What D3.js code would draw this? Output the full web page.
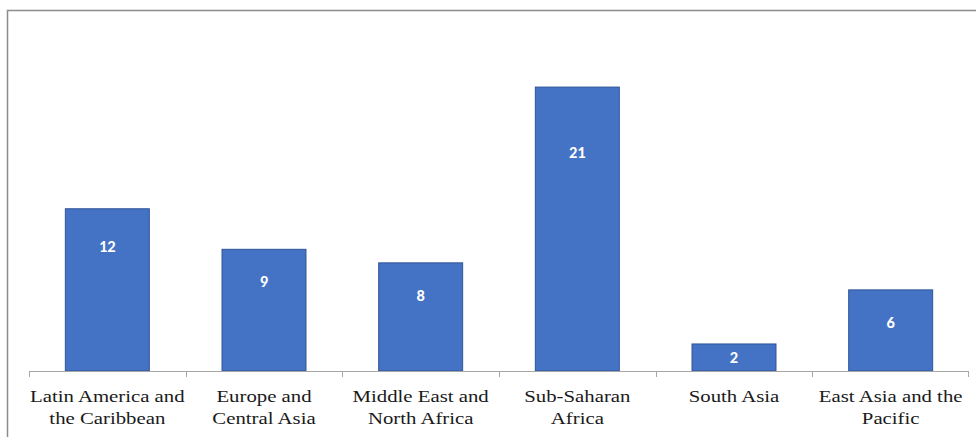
<!DOCTYPE html>
<html>
<head>
<meta charset="utf-8">
<script src="https://cdn.jsdelivr.net/npm/d3@7"></script>
<style>
  body { margin: 0; background: #fff; }
  svg { display: block; }
</style>
</head>
<body>
<div id="chart"></div>
<script>
// data
var regions = ['Latin America and the Caribbean', 'Europe and Central Asia',
  'Middle East and North Africa', 'Sub-Saharan Africa', 'South Asia', 'East Asia and the Pacific']
var regionLines = [['Latin America and', 'the Caribbean'], ['Europe and', 'Central Asia'],
  ['Middle East and', 'North Africa'], ['Sub-Saharan', 'Africa'], ['South Asia'], ['East Asia and the', 'Pacific']]
var counts = [12, 9, 8, 21, 2, 6]

var w = 976, h = 437
var margin = { top: 33, right: 7, bottom: 66, left: 29 }

var svg = d3.select('#chart').append('svg')
  .attr('width', w)
  .attr('height', h)

// outer frame (left and top edges only visible)
svg.append('path')
  .attr('d', 'M7.5,' + h + 'V10.5H' + w)
  .attr('fill', 'none')
  .attr('stroke', '#8c8c8c')
  .attr('stroke-width', 1.5)

var x = d3.scaleBand()
  .domain(regions)
  .range([margin.left, w - margin.right])
  .paddingInner(0.464)
  .paddingOuter(0.232)

var y = d3.scaleLinear()
  .domain([0, 25])
  .range([h - margin.bottom, margin.top])

var bars = svg.selectAll('.bar')
  .data(regions)
  .enter().append('g')
  .attr('class', 'bar')

bars.append('rect')
  .attr('x', function(d) { return x(d) })
  .attr('y', function(d, i) { return y(counts[i]) })
  .attr('width', x.bandwidth())
  .attr('height', function(d, i) { return y(0) - y(counts[i]) })
  .attr('fill', '#4472c4')
  .attr('stroke', '#2f5597')
  .attr('stroke-width', 1)

// value labels, inside the bar near the top
bars.append('text')
  .attr('x', function(d) { return x(d) + x.bandwidth() / 2 })
  .attr('y', function(d, i) {
    var top = y(counts[i]), hgt = y(0) - top
    var off = hgt < 40 ? hgt / 2 : Math.max(hgt * 0.23, 32)
    return top + off
  })
  .attr('dy', '0.35em')
  .attr('text-anchor', 'middle')
  .attr('fill', '#fff')
  .attr('font-family', 'Carlito, Calibri, "Open Sans", sans-serif')
  .attr('font-weight', 'bold')
  .attr('font-size', 16.5)
  .text(function(d, i) { return counts[i] })

// category axis
var axisY = y(0)
var outer = x.step() * x.paddingOuter()
svg.append('line')
  .attr('x1', margin.left).attr('x2', w - margin.right - 1)
  .attr('y1', axisY + 0.5).attr('y2', axisY + 0.5)
  .attr('stroke', '#a6a6a6')

var tickPos = regions.map(function(d) { return x(d) - outer })
tickPos.push(w - margin.right - 1)
svg.selectAll('.tick')
  .data(tickPos)
  .enter().append('line')
  .attr('class', 'tick')
  .attr('x1', function(d) { return Math.round(d) + 0.5 })
  .attr('x2', function(d) { return Math.round(d) + 0.5 })
  .attr('y1', axisY)
  .attr('y2', axisY + 6)
  .attr('stroke', '#a6a6a6')

// labels are a wide serif in the original; stretch Times horizontally
var labels = svg.selectAll('.cat')
  .data(regions)
  .enter().append('text')
  .attr('class', 'cat')
  .attr('transform', function(d) {
    return 'translate(' + (x(d) + x.bandwidth() / 2) + ',' + (axisY + 31) + ') scale(1.26,1)'
  })
  .attr('text-anchor', 'middle')
  .attr('font-family', '"Liberation Serif", "Times New Roman", serif')
  .attr('font-size', 16.5)
  .attr('fill', '#1a1a1a')

labels.each(function(d, i) {
  var t = d3.select(this)
  regionLines[i].forEach(function(line, j) {
    t.append('tspan')
      .attr('x', 0)
      .attr('dy', j === 0 ? 0 : 22)
      .text(line)
  })
})
</script>
</body>
</html>
